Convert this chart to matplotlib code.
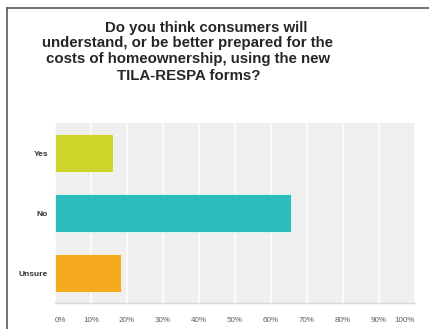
import matplotlib.pyplot as plt
from matplotlib.lines import Line2D

# Respuestas de la encuesta (porcentaje)
categorias = ['Yes', 'No', 'Unsure']
porcentajes = [16.0, 65.5, 18.3]
colores = ['#cdd52b', '#2dbcbe', '#f5aa1e']
marcas_x = [0, 10, 20, 30, 40, 50, 60, 70, 80, 90, 100]
etiquetas_x = [f'{v}%' for v in marcas_x]

titulo = [
    'Do you think consumers will',
    'understand, or be better prepared for the',
    'costs of homeownership, using the new',
    'TILA-RESPA forms?',
]
# centro horizontal de cada línea del título (px)
centros_titulo = [206, 188, 188, 189]

ANCHO, ALTO = 429, 329
fig = plt.figure(figsize=(ANCHO / 100, ALTO / 100), dpi=100)
fig.patch.set_facecolor('white')

# Marco del recuadro (solo lado izquierdo y superior)
fig.add_artist(Line2D([7 / ANCHO, 7 / ANCHO], [0, 1 - 8 / ALTO], color='#5a5a5a', lw=1.2))
fig.add_artist(Line2D([7 / ANCHO, 1], [1 - 8 / ALTO, 1 - 8 / ALTO], color='#5a5a5a', lw=1.2))

# Título en cuatro líneas
bases = [32, 47.5, 63, 80]
for texto, cx, base in zip(titulo, centros_titulo, bases):
    fig.text(cx / ANCHO, 1 - base / ALTO, texto, ha='center', va='baseline',
             fontsize=10.8, fontweight='bold', family='Liberation Sans', color='#262626')

ax = fig.add_axes([55 / ANCHO, 1 - 303 / ALTO, 360 / ANCHO, 180 / ALTO])
ax.set_facecolor('#efefef')

y = list(range(len(categorias)))
ax.barh(y, porcentajes, height=0.62, color=colores, edgecolor='white', linewidth=0.5, zorder=3)

ax.set_xlim(0, 100)
ax.set_ylim(len(categorias) - 0.5, -0.5)
ax.set_xticks(marcas_x)
ax.set_xticklabels(etiquetas_x, fontsize=5.8, color='#606060', family='Liberation Sans')
ax.set_yticks(y)
ax.set_yticklabels(categorias, fontsize=6, fontweight='bold', color='#333333', family='Liberation Sans')
ax.get_xticklabels()[0].set_ha('left')
ax.get_xticklabels()[-1].set_ha('right')
ax.tick_params(axis='x', length=0, pad=10)
ax.tick_params(axis='y', length=0, pad=5)

ax.grid(axis='x', color='white', linewidth=1.1, zorder=1)
ax.set_axisbelow(True)
for lado in ['top', 'right', 'left']:
    ax.spines[lado].set_visible(False)
ax.spines['bottom'].set_color('#dadada')
ax.spines['bottom'].set_linewidth(1.0)

fig.savefig('out.png', dpi=100)
